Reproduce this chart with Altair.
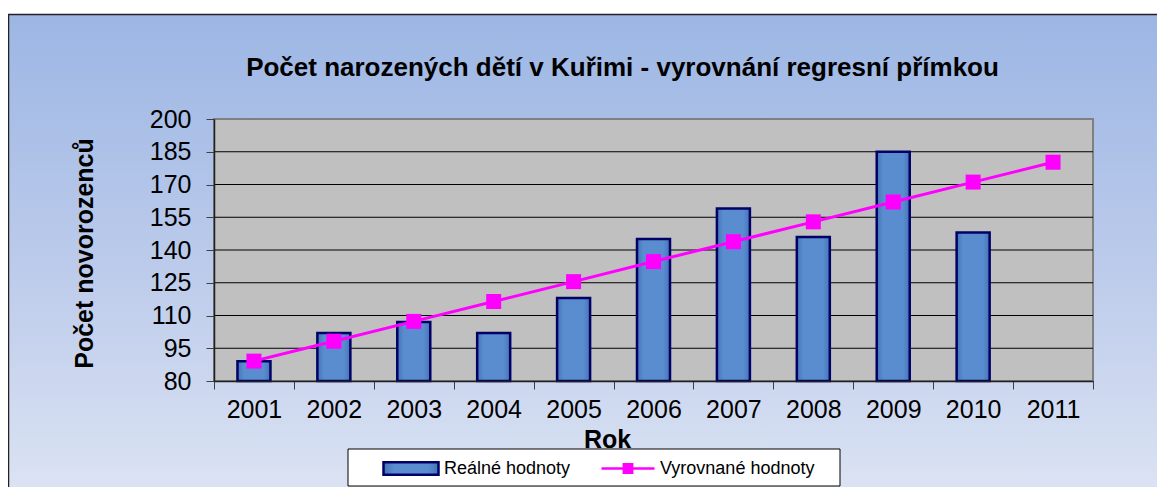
import altair as alt
import pandas as pd

years = ["2001", "2002", "2003", "2004", "2005", "2006", "2007", "2008", "2009", "2010", "2011"]
real_values = [89, 102, 107, 102, 118, 145, 159, 146, 185, 148, None]
fitted_values = [89.1, 98.2, 107.3, 116.4, 125.5, 134.7, 143.8, 152.9, 162.0, 171.1, 180.2]
y_ticks = [80, 95, 110, 125, 140, 155, 170, 185, 200]

TITLE = "Počet narozených dětí v Kuřimi - vyrovnání regresní přímkou"
Y_TITLE = "Počet novorozenců"
X_TITLE = "Rok"
S_REAL = "Reálné hodnoty"
S_FIT = "Vyrovnané hodnoty"

FONT = "Liberation Sans"
W, H = 879, 262

df = pd.DataFrame({"year": years, "real": real_values, "fitted": fitted_values})
grid_df = pd.DataFrame({"tick": y_ticks[1:-1]})
one = pd.DataFrame({"a": [0]})

x_scale = alt.Scale(paddingInner=0, paddingOuter=0)
x_axis = alt.Axis(
    title=X_TITLE, labelAngle=0, tickBand="extent", grid=False, zindex=1,
    labelFontSize=25, labelFont=FONT, labelColor="#000000", labelPadding=8,
    tickSize=8, tickColor="#404040", domainColor="#202020", domainWidth=1.5,
    titleFont=FONT, titleFontSize=25, titleFontWeight="bold", titleColor="#000000",
    titleX=393, titleY=66, titleAlign="center", titleBaseline="alphabetic",
)
y_scale = alt.Scale(domain=[80, 200], nice=False, zero=False)
y_axis = alt.Axis(
    title=Y_TITLE, values=y_ticks, grid=False, zindex=1, labelOverlap=False,
    labelFontSize=25, labelFont=FONT, labelColor="#000000", labelPadding=15,
    tickSize=8, tickColor="#404040", domainColor="#202020", domainWidth=1.5,
    titleFont=FONT, titleFontSize=25, titleFontWeight="bold", titleColor="#000000",
    titleX=-130, titleY=134, titleAngle=-90, titleAlign="center", titleBaseline="middle",
)

bg = alt.Chart(one).mark_rect(
    color=alt.Gradient(
        gradient="linear", x1=0, x2=0, y1=0, y2=1,
        stops=[alt.GradientStop(color="#9cb6e4", offset=0),
               alt.GradientStop(color="#bccbeb", offset=0.5),
               alt.GradientStop(color="#dfe6f4", offset=1)],
    ),
    stroke="#222222", strokeWidth=1.5,
).encode(x=alt.value(-205.5), x2=alt.value(1000), y=alt.value(-104.5), y2=alt.value(400))

plot_bg = alt.Chart(one).mark_rect(fill="#c0c0c0", stroke="#808080", strokeWidth=2).encode(
    x=alt.value(0), x2=alt.value(W), y=alt.value(0), y2=alt.value(H)
)

grid = alt.Chart(grid_df).mark_rule(color="#000000", strokeWidth=1).encode(
    y=alt.Y("tick:Q", scale=y_scale, axis=y_axis), x=alt.value(0), x2=alt.value(W)
)

bar_fill = alt.Gradient(
    gradient="linear", x1=0, x2=1, y1=0, y2=0,
    stops=[alt.GradientStop(color="#4474b6", offset=0),
           alt.GradientStop(color="#5a8dd0", offset=0.2),
           alt.GradientStop(color="#5a8dd0", offset=0.8),
           alt.GradientStop(color="#4474b6", offset=1)],
)

bars = alt.Chart(df).transform_calculate(s1=f"'{S_REAL}'").mark_bar(
    size=33, strokeWidth=2.5, fill=bar_fill,
).encode(
    x=alt.X("year:O", sort=years, scale=x_scale, axis=x_axis),
    y=alt.Y("real:Q", scale=y_scale, axis=y_axis),
    y2=alt.datum(80),
    stroke=alt.Stroke(
        "s1:N",
        scale=alt.Scale(domain=[S_REAL], range=["#000066"]),
        legend=alt.Legend(
            title=None, orient="none", legendX=168, legendY=320.5, padding=0,
            symbolType="M-1,-0.23H1V0.23H-1Z", symbolSize=3025,
            symbolFillColor="#6f9fdc", symbolStrokeWidth=2.5,
            labelFont=FONT, labelFontSize=18, labelColor="#000000", labelOffset=4,
        ),
    ),
)

line = alt.Chart(df).transform_calculate(s2=f"'{S_FIT}'").mark_line(
    strokeWidth=3,
    point=alt.OverlayMarkDef(shape="square", size=225, filled=True, color="#ff00ff"),
).encode(
    x=alt.X("year:O", sort=years, scale=x_scale, axis=x_axis),
    y=alt.Y("fitted:Q", scale=y_scale, axis=y_axis),
    color=alt.Color(
        "s2:N",
        scale=alt.Scale(domain=[S_FIT], range=["#ff00ff"]),
        legend=alt.Legend(
            title=None, orient="none", legendX=386, legendY=321.5, padding=0,
            symbolType="M-1,0H1M-0.157,-0.157H0.157V0.157H-0.157Z", symbolSize=2809,
            symbolFillColor="#ff00ff", symbolStrokeWidth=2.5,
            labelFont=FONT, labelFontSize=18, labelColor="#000000", labelOffset=4,
        ),
    ),
)

legend_box = alt.Chart(one).mark_rect(fill="#ffffff", stroke="#000000", strokeWidth=1).encode(
    x=alt.value(134), x2=alt.value(626), y=alt.value(330), y2=alt.value(367)
)

chart = alt.layer(bg, plot_bg, grid, legend_box, bars, line).resolve_scale(
    stroke="independent", color="independent"
).properties(
    width=W, height=H,
    padding={"left": 206, "top": 111, "right": 64, "bottom": 106},
    autosize="none",
    background="#ffffff",
    title=alt.TitleParams(
        TITLE, font=FONT, fontSize=26, fontWeight="bold", color="#000000",
        anchor="middle", dx=-31, offset=37, dy=104.5,
    ),
).configure_view(strokeWidth=0).configure_axisY(labelOverlap=False)

chart.save("out.html", embed_options={"renderer": "svg", "actions": False})
